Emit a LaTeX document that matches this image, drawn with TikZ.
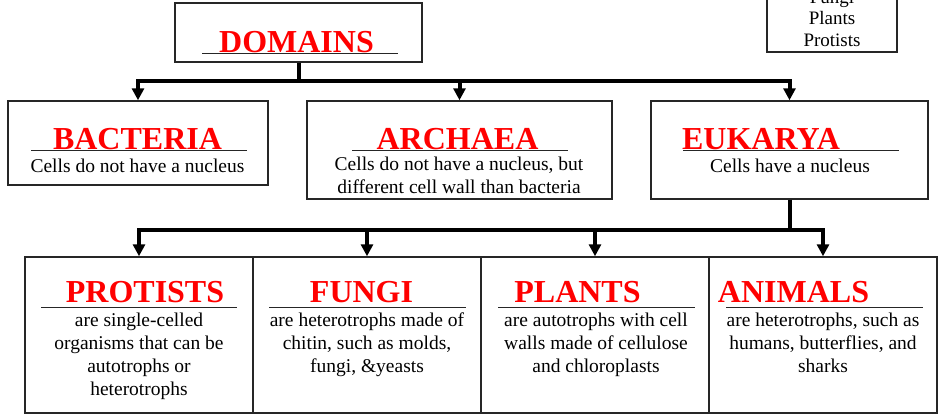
\documentclass[tikz,border=0pt]{standalone}
\usepackage{fontspec}
\setmainfont{Liberation Serif}
\usetikzlibrary{arrows.meta}

\begin{document}
\begin{tikzpicture}[
    x=1pt, y=-1pt,
    box/.style={
        draw=black!85,
        line width=1.5pt,
        inner sep=0pt,
    },
    ttl/.style={
        font=\fontsize{32}{36}\selectfont\bfseries,
        text=red,
        inner sep=0pt,
        anchor=base,
    },
    body/.style={
        font=\fontsize{19.5}{23}\selectfont,
        align=center,
        inner sep=0pt,
        anchor=north,
    },
    uline/.style={line width=1.5pt, black!85},
    conn/.style={line width=4pt, -{Triangle[length=12pt,width=12pt]}},
]

% Picture frame
\useasboundingbox (0,0) rectangle (942,416);
\clip (0,0) rectangle (942,416);

% Y positions
\def\yTop{149.5}      % title baseline, middle row
\def\yBot{302}        % title baseline, bottom row
\def\uTop{150.7}      % underline, middle row
\def\uBot{307.7}      % underline, bottom row

% --- Key box (top right) ---
\node[box, minimum width=130, minimum height=90] (key) at (832,7) {};
\node[body, font=\fontsize{19}{21.5}\selectfont, anchor=south] (keytxt) at (832,46.5)
    {Fungi\\Plants\\Protists};

% --- Domains ---
\node[box, minimum width=247, minimum height=59] (dom) at (298.5,32.5) {};
\node[ttl] (domT) at (296.5,52.5) {DOMAINS};
\draw[uline] (202,53.3) -- (398,53.3);

% --- Middle row ---
\node[box, minimum width=260, minimum height=84] (bac) at (138,143) {};
\node[ttl] (bacT) at (137.5,\yTop) {BACTERIA};
\draw[uline] (31,\uTop) -- (247,\uTop);
\node[body] (bacB) at (137.5,158.5) {Cells do not have a nucleus};

\node[box, minimum width=305, minimum height=98] (arc) at (459.5,150) {};
\node[ttl] (arcT) at (457.5,\yTop) {ARCHAEA};
\draw[uline] (352,\uTop) -- (568,\uTop);
\node[body] (arcB) at (459,156.5)
    {Cells do not have a nucleus, but\\different cell wall than bacteria};

\node[box, minimum width=277, minimum height=98] (euk) at (789.5,150) {};
\node[ttl] (eukT) at (761,\yTop) {EUKARYA};
\draw[uline] (683,\uTop) -- (899,\uTop);
\node[body] (eukB) at (790,158.5) {Cells have a nucleus};

% --- Bottom row ---
\node[box, minimum width=228, minimum height=156] (pro) at (139,335) {};
\node[ttl] (proT) at (145,\yBot) {PROTISTS};
\draw[uline] (41,\uBot) -- (237,\uBot);
\node[body] (proB) at (139,312.5)
    {are single-celled\\organisms that can be\\autotrophs or\\heterotrophs};

\node[box, minimum width=228, minimum height=156] (fun) at (367,335) {};
\node[ttl] (funT) at (361.5,\yBot) {FUNGI};
\draw[uline] (269,\uBot) -- (466,\uBot);
\node[body] (funB) at (367,312.5)
    {are heterotrophs made of\\chitin, such as molds,\\fungi, \&yeasts};

\node[box, minimum width=228, minimum height=156] (pla) at (595,335) {};
\node[ttl] (plaT) at (577.5,\yBot) {PLANTS};
\draw[uline] (498,\uBot) -- (695,\uBot);
\node[body] (plaB) at (596,312.5)
    {are autotrophs with cell\\walls made of cellulose\\and chloroplasts};

\node[box, minimum width=228, minimum height=156] (ani) at (823,335) {};
\node[ttl] (aniT) at (793.5,\yBot) {ANIMALS};
\draw[uline] (726,\uBot) -- (923,\uBot);
\node[body] (aniB) at (823,312.5)
    {are heterotrophs, such as\\humans, butterflies, and\\sharks};

% --- Connectors ---
\foreach \t in {bac,arc,euk}
    \draw[conn] (dom.south) -- ++(0,18) -| (\t.north);
\foreach \t in {pro,fun,pla,ani}
    \draw[conn] (euk.south) -- ++(0,30) -| (\t.north);

\end{tikzpicture}
\end{document}
